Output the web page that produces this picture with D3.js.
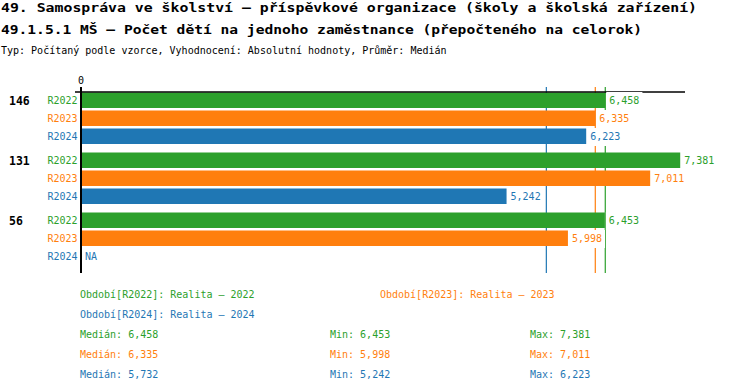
<!DOCTYPE html>
<html>
<head>
<meta charset="utf-8">
<script src="https://cdn.jsdelivr.net/npm/d3@7"></script>
<style>
  body { margin: 0; background: #fff; }
  text { font-family: "DejaVu Sans Mono", monospace; }
</style>
</head>
<body>
<div id="chart"></div>
<script>
// Data
const groups = ["146", "131", "56"];
const seriesNames = ["R2022", "R2023", "R2024"];
const values2022 = [6458, 7381, 6453];
const values2023 = [6335, 7011, 5998];
const values2024 = [6223, 5242, null];
const medians = [6458, 6335, 5732];
const mins = [6453, 5998, 5242];
const maxs = [7381, 7011, 6223];
const periodLabels = ["Období[R2022]: Realita – 2022", "Období[R2023]: Realita – 2023", "Období[R2024]: Realita – 2024"];

const colors = ["#2ca02c", "#ff7f0e", "#1f77b4"];
const fmt = d3.format(",");

const width = 750;
const height = 392;

const svg = d3.select("#chart")
  .append("svg")
  .attr("width", width)
  .attr("height", height);

// Titles
svg.append("text")
  .attr("x", 1).attr("y", 12)
  .style("font-size", "11.5px").style("font-weight", "bold")
  .attr("textLength", 696).attr("lengthAdjust", "spacingAndGlyphs")
  .text("49. Samospráva ve školství – příspěvkové organizace (školy a školská zařízení)");

svg.append("text")
  .attr("x", 1).attr("y", 34)
  .style("font-size", "11.5px").style("font-weight", "bold")
  .attr("textLength", 641).attr("lengthAdjust", "spacingAndGlyphs")
  .text("49.1.5.1 MŠ – Počet dětí na jednoho zaměstnance (přepočteného na celorok)");

svg.append("text")
  .attr("x", 1).attr("y", 54)
  .style("font-size", "10px")
  .text("Typ: Počítaný podle vzorce, Vyhodnocení: Absolutní hodnoty, Průměr: Medián");

// Scales
const x = d3.scaleLinear().domain([0, 7440]).range([81, 685]);
const y0 = d3.scaleBand().domain(groups).range([92, 272]);
const y1 = d3.scaleBand().domain(seriesNames).range([0, 54]);

const rows = [];
groups.forEach((g, gi) => {
  [values2022, values2023, values2024].forEach((arr, si) => {
    rows.push({ group: g, series: seriesNames[si], value: arr[gi], color: colors[si] });
  });
});

const rowY = d => y0(d.group) + y1(d.series);

// Median lines (behind bars)
svg.selectAll(".median")
  .data(medians)
  .join("line")
  .attr("x1", d => x(d)).attr("x2", d => x(d))
  .attr("y1", 87).attr("y2", 273)
  .attr("stroke", (d, i) => colors[i])
  .attr("stroke-width", 1.2);

// Bars
svg.selectAll(".bar")
  .data(rows.filter(d => d.value != null))
  .join("rect")
  .attr("class", "bar")
  .attr("x", x(0))
  .attr("y", d => rowY(d) + 0.5)
  .attr("width", d => x(d.value) - x(0))
  .attr("height", 15.5)
  .attr("fill", d => d.color);

// Axis lines
svg.append("line")
  .attr("x1", 75).attr("x2", x.range()[1])
  .attr("y1", 92).attr("y2", 92)
  .attr("stroke", "#000").attr("stroke-width", 1.5);
svg.append("line")
  .attr("x1", x(0)).attr("x2", x(0))
  .attr("y1", 87).attr("y2", 273)
  .attr("stroke", "#000").attr("stroke-width", 2);

svg.append("text")
  .attr("x", x(0)).attr("y", 84)
  .attr("text-anchor", "middle")
  .style("font-size", "10px")
  .text("0");

// Value labels with white background
const labels = svg.selectAll(".vlabel")
  .data(rows)
  .join("g")
  .attr("class", "vlabel");

labels.each(function (d) {
  const g = d3.select(this);
  const x0 = d.value == null ? x(0) + 1 : x(d.value) + 1;
  const bg = g.append("rect").attr("fill", "#fff");
  const t = g.append("text")
    .attr("x", x0 + 3)
    .attr("y", rowY(d) + 12)
    .style("font-size", "10px")
    .attr("fill", d.color)
    .text(d.value == null ? "NA" : fmt(d.value));
  const bb = t.node().getBBox();
  bg.attr("x", x0).attr("y", rowY(d))
    .attr("width", bb.width + 6).attr("height", 18);
});

// Series labels
svg.selectAll(".slabel")
  .data(rows)
  .join("text")
  .attr("x", 77.5)
  .attr("y", d => rowY(d) + 12)
  .attr("text-anchor", "end")
  .style("font-size", "10px")
  .attr("fill", d => d.color)
  .text(d => d.series);

// Group labels
svg.selectAll(".glabel")
  .data(groups)
  .join("text")
  .attr("x", 9)
  .attr("y", d => y0(d) + 13)
  .style("font-size", "11.5px")
  .style("font-weight", "bold")
  .text(d => d);

// Legend / summary
const legendPos = [[80, 298], [380, 298], [80, 318]];
periodLabels.forEach((t, i) => {
  svg.append("text")
    .attr("x", legendPos[i][0]).attr("y", legendPos[i][1])
    .style("font-size", "10px")
    .attr("fill", colors[i])
    .text(t);
});

seriesNames.forEach((s, i) => {
  const yy = 338 + i * 20;
  svg.append("text").attr("x", 80).attr("y", yy)
    .style("font-size", "10px").attr("fill", colors[i])
    .text("Medián: " + fmt(medians[i]));
  svg.append("text").attr("x", 330).attr("y", yy)
    .style("font-size", "10px").attr("fill", colors[i])
    .text("Min: " + fmt(mins[i]));
  svg.append("text").attr("x", 530).attr("y", yy)
    .style("font-size", "10px").attr("fill", colors[i])
    .text("Max: " + fmt(maxs[i]));
});
</script>
</body>
</html>
